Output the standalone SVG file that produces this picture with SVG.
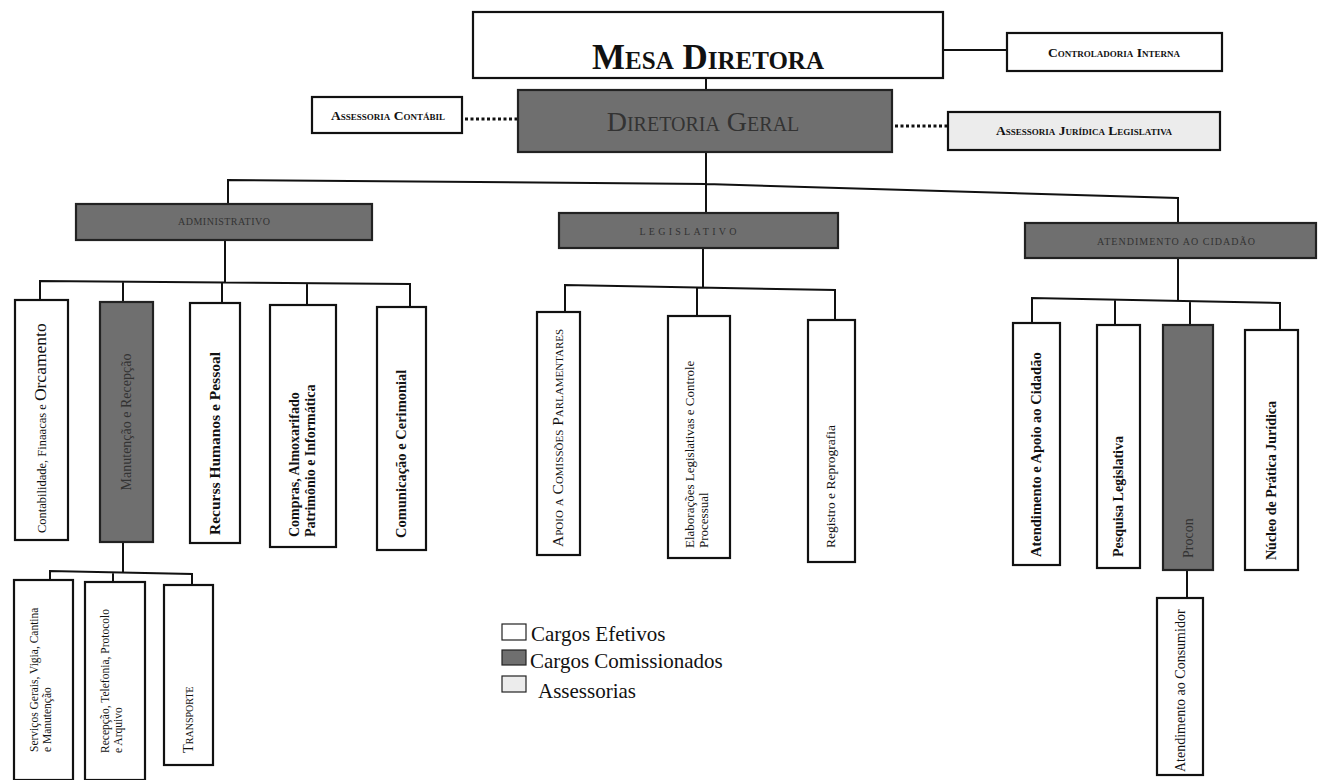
<svg xmlns="http://www.w3.org/2000/svg" width="1318" height="780" viewBox="0 0 1318 780">
<style>
.box{fill:#fff;stroke:#111;stroke-width:2.2}
.dark{fill:#6f6f6f;stroke:#222;stroke-width:2.2}
.light{fill:#ececec;stroke:#111;stroke-width:2.2}
.ln{fill:none;stroke:#111;stroke-width:2}
.dot{fill:none;stroke:#111;stroke-width:3;stroke-dasharray:3 2.5}
text{font-family:"Liberation Serif","Times New Roman",serif;fill:#111}
.sc{font-variant:small-caps}
.dk{fill:#333}
</style>
<rect width="1318" height="780" fill="#fff"/>
<g id="connectors">
<path class="ln" d="M943 50H1007"/>
<path class="ln" d="M706 78V90"/>
<path class="dot" d="M465 119H518"/>
<path class="dot" d="M895 126H948"/>
<path class="ln" d="M706 152V184M228 204V180L706 184L1178 198V228M706 184V213"/>
<path class="ln" d="M225 240V282M40 300V281L410 284V307M123 281V302M222 282V303M307 283V305"/>
<path class="ln" d="M123 542V573M50 580V571L192 574V585M113 572V582"/>
<path class="ln" d="M703 248V288M565 312V285L835 290V320M697 288V316"/>
<path class="ln" d="M1178 258V301M1032 323V298L1280 303V330M1115 300V325M1190 302V325"/>
<path class="ln" d="M1187 570V598"/>
</g>
<g id="mesa"><rect class="box" x="473" y="12" width="470" height="66"/>
<text x="708" y="69" text-anchor="middle" font-size="35" font-weight="bold" class="sc">Mesa Diretora</text></g>
<g id="controladoria"><rect class="box" x="1007" y="33" width="215" height="38"/>
<text x="1114" y="57" text-anchor="middle" font-size="13.5" font-weight="bold" class="sc">Controladoria Interna</text></g>
<g id="diretoria"><rect class="dark" x="518" y="90" width="374" height="62"/>
<text x="703" y="131" text-anchor="middle" font-size="28" class="sc dk">Diretoria Geral</text></g>
<g id="ass-contabil"><rect class="box" x="312" y="97" width="150" height="36"/>
<text x="388" y="120" text-anchor="middle" font-size="13.5" font-weight="bold" class="sc">Assessoria Contábil</text></g>
<g id="ass-juridica"><rect class="light" x="948" y="112" width="272" height="38"/>
<text x="1084" y="135" text-anchor="middle" font-size="13.5" font-weight="bold" class="sc">Assessoria Jurídica Legislativa</text></g>
<g id="administrativo"><rect class="dark" x="76" y="204" width="296" height="36"/>
<text x="224" y="225" text-anchor="middle" font-size="10" textLength="92" lengthAdjust="spacing" class="dk">ADMINISTRATIVO</text></g>
<g id="legislativo"><rect class="dark" x="559" y="213" width="279" height="35"/>
<text x="688" y="235" text-anchor="middle" font-size="10" textLength="97" lengthAdjust="spacing" class="dk">LEGISLATIVO</text></g>
<g id="atendimento"><rect class="dark" x="1025" y="223" width="291" height="35"/>
<text x="1176" y="245" text-anchor="middle" font-size="10" textLength="158" lengthAdjust="spacing" class="dk">ATENDIMENTO AO CIDADÃO</text></g>
<g id="contabilidade"><rect class="box" x="15" y="300" width="53" height="240"/>
<text transform="translate(46 533) rotate(-90)" font-size="12.5">Contabilidade, Finaacas e <tspan font-size="17.5">Orcamento</tspan></text></g>
<g id="manutencao"><rect class="dark" x="100" y="302" width="53" height="240"/>
<text transform="translate(131 422) rotate(-90)" text-anchor="middle" font-size="14" class="dk">Manutenção e Recepção</text></g>
<g id="rh"><rect class="box" x="190" y="303" width="50" height="240"/>
<text transform="translate(220 535) rotate(-90)" font-size="15.5" font-weight="bold">Recurss Humanos e Pessoal</text></g>
<g id="compras"><rect class="box" x="270" y="305" width="66" height="242"/>
<text transform="translate(299 537) rotate(-90)" font-size="14" font-weight="bold">Compras, Almoxarifado</text>
<text transform="translate(315 537) rotate(-90)" font-size="14" font-weight="bold">Patrimônio e Informática</text></g>
<g id="comunicacao"><rect class="box" x="377" y="307" width="49" height="243"/>
<text transform="translate(406 538) rotate(-90)" font-size="14.5" font-weight="bold">Comunicação e Cerimonial</text></g>
<g id="servicos"><rect class="box" x="14" y="580" width="59" height="200"/>
<text transform="translate(38 752) rotate(-90)" font-size="11.5">Serviços Gerais, Vigia, Cantina</text>
<text transform="translate(51 752) rotate(-90)" font-size="11.5">e Manutenção</text></g>
<g id="recepcao"><rect class="box" x="85" y="582" width="60" height="198"/>
<text transform="translate(109 753) rotate(-90)" font-size="11.5">Recepção, Telefonia, Protocolo</text>
<text transform="translate(122 753) rotate(-90)" font-size="11.5">e Arquivo</text></g>
<g id="transporte"><rect class="box" x="164" y="585" width="49" height="180"/>
<text transform="translate(193 753) rotate(-90)" font-size="14.5" class="sc">Transporte</text></g>
<g id="apoio"><rect class="box" x="537" y="312" width="43" height="243"/>
<text transform="translate(563 547) rotate(-90)" font-size="15.5" class="sc">Apoio a Comissões Parlamentares</text></g>
<g id="elaboracoes"><rect class="box" x="668" y="316" width="62" height="242"/>
<text transform="translate(694 548) rotate(-90)" font-size="13">Elaborações Legislativas e Controle</text>
<text transform="translate(708 548) rotate(-90)" font-size="13">Processual</text></g>
<g id="registro"><rect class="box" x="808" y="320" width="47" height="242"/>
<text transform="translate(835 548) rotate(-90)" font-size="13.5">Registro e Reprografia</text></g>
<g id="apoio-cidadao"><rect class="box" x="1013" y="323" width="47" height="242"/>
<text transform="translate(1041 557) rotate(-90)" font-size="14.5" font-weight="bold">Atendimento e Apoio ao Cidadão</text></g>
<g id="pesquisa"><rect class="box" x="1097" y="325" width="43" height="243"/>
<text transform="translate(1123 557) rotate(-90)" font-size="14" font-weight="bold">Pesquisa Legislativa</text></g>
<g id="procon"><rect class="dark" x="1163" y="325" width="50" height="245"/>
<text transform="translate(1193 558) rotate(-90)" font-size="14" class="dk">Procon</text></g>
<g id="nucleo"><rect class="box" x="1245" y="330" width="53" height="240"/>
<text transform="translate(1276 560) rotate(-90)" font-size="14" font-weight="bold">Núcleo de Prática Jurídica</text></g>
<g id="consumidor"><rect class="box" x="1157" y="598" width="46" height="177"/>
<text transform="translate(1185 772) rotate(-90)" font-size="14">Atendimento ao Consumidor</text></g>
<g id="legend">
<rect x="502" y="624" width="24" height="16" fill="#fff" stroke="#222" stroke-width="1.2"/>
<text x="531" y="641" font-size="21" fill="#333">Cargos Efetivos</text>
<rect x="502" y="650" width="24" height="15" fill="#6f6f6f" stroke="#222" stroke-width="1.2"/>
<text x="530" y="668" font-size="21" fill="#333">Cargos Comissionados</text>
<rect x="502" y="676" width="24" height="16" fill="#ececec" stroke="#222" stroke-width="1.2"/>
<text x="538" y="698" font-size="21" fill="#333">Assessorias</text>
</g>
</svg>
